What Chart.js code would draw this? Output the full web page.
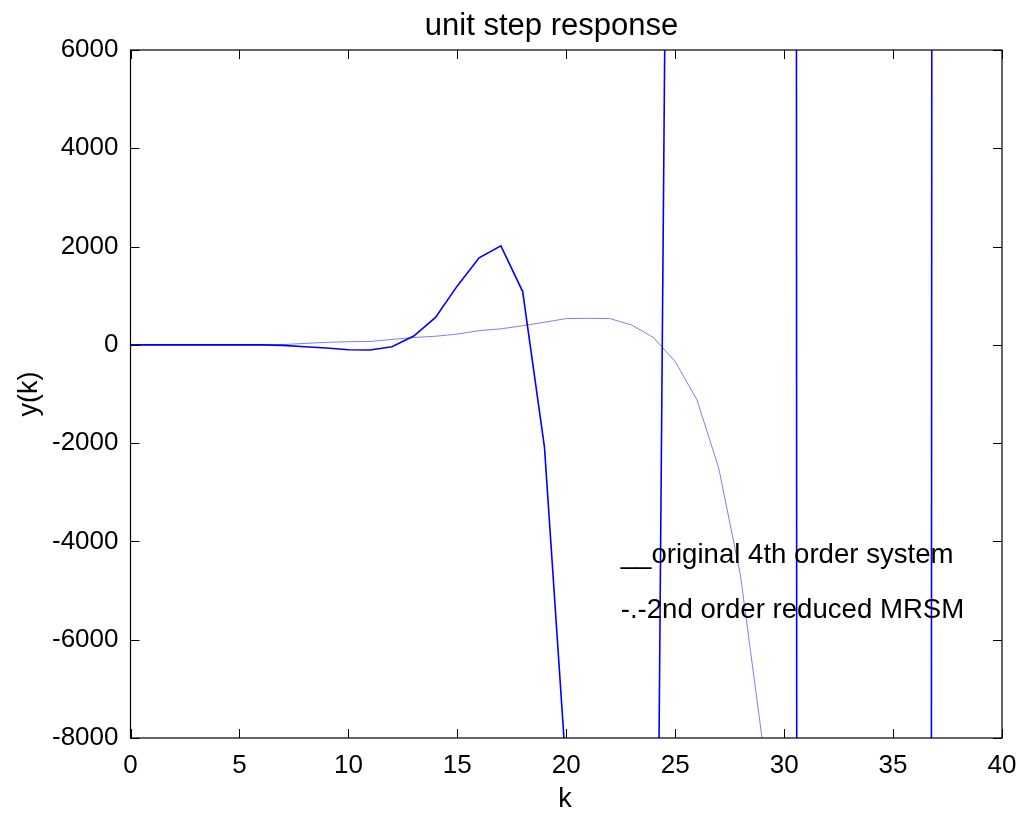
<!DOCTYPE html>
<html>
<head>
<meta charset="utf-8">
<title>unit step response</title>
<script src="https://cdn.jsdelivr.net/npm/chart.js@4/dist/chart.umd.min.js"></script>
<style>
  html, body { margin: 0; padding: 0; background: #fff; }
  canvas { display: block; }
</style>
</head>
<body>
<canvas id="chart" width="1022" height="814"></canvas>
<script>
// ── Data ───────────────────────────────────────────────────
// values beyond the axes are rough guesses, kept small enough that
// Chart.js doesn't clamp the pixel coordinates (int16 range)
const kOriginal = [0, 1, 2, 3, 4, 5, 6, 7, 8, 9, 10, 11, 12, 13, 14, 15, 16, 17, 18, 19, 20,
  21, 22, 23, 24, 25, 26, 27, 28, 29, 30, 31, 32, 33, 34, 35, 36, 37, 38, 39, 40]
const yOriginal = [0, 0, 0, 0, 0, 0, 0, -10, -40, -65, -100, -105, -40, 180, 560, 1200, 1770, 2015, 1085, -2080, -8700,
  -12000, -15000, -19000, -22000, 32000, 70000, 150000, 280000, 450000, 600000,
  -450000, -550000, -600000, -610000, -615000, -616000, 184000, 400000, 550000, 620000]

const kReduced = [0, 1, 2, 3, 4, 5, 6, 7, 8, 9, 10, 11, 12, 13, 14, 15, 16, 17, 18, 19, 20,
  21, 22, 23, 24, 25, 26, 27, 28, 29, 30]
const yReduced = [0, 0, 0, 0, 0, 0, 0, 5, 30, 50, 65, 70, 110, 150, 175, 220, 290, 325, 390, 460, 535,
  540, 535, 405, 150, -340, -1120, -2510, -4700, -8050, -13000]

const xTicks = [0, 5, 10, 15, 20, 25, 30, 35, 40]
const yTicks = [-8000, -6000, -4000, -2000, 0, 2000, 4000, 6000]

const titleText = 'unit step response'
const xLabel = 'k'
const yLabel = 'y(k)'
const noteTexts = ['__original 4th order system', '-.-2nd order reduced MRSM']
const noteX = [22.5, 22.5]
const noteY = [-4280, -5400]

const FONT = '"Liberation Sans", Arial, Helvetica, sans-serif'
const toPoints = (xs, ys) => xs.map((x, i) => ({ x, y: ys[i] }))

// ── Box, inward ticks and free text (MATLAB look) ──────────
const matlabFrame = {
  id: 'matlabFrame',
  afterDraw(chart) {
    const { ctx, chartArea: a, scales: { x, y } } = chart
    const tl = 9
    ctx.save()
    ctx.strokeStyle = '#000'
    ctx.lineWidth = 1.2
    ctx.strokeRect(a.left, a.top, a.right - a.left, a.bottom - a.top)
    ctx.beginPath()
    xTicks.forEach((v) => {
      const px = Math.round(x.getPixelForValue(v)) + 0.5
      ctx.moveTo(px, a.bottom); ctx.lineTo(px, a.bottom - tl)
      ctx.moveTo(px, a.top); ctx.lineTo(px, a.top + tl)
    })
    yTicks.forEach((v) => {
      const py = Math.round(y.getPixelForValue(v)) + 0.5
      ctx.moveTo(a.left, py); ctx.lineTo(a.left + tl, py)
      ctx.moveTo(a.right, py); ctx.lineTo(a.right - tl, py)
    })
    ctx.lineWidth = 1
    ctx.stroke()

    ctx.fillStyle = '#000'
    ctx.textBaseline = 'middle'
    ctx.textAlign = 'center'
    ctx.font = `31px ${FONT}`
    ctx.fillText(titleText, 551.5, 26)
    ctx.font = `27px ${FONT}`
    ctx.fillText(xLabel, 565, 800)
    ctx.save()
    ctx.translate(30, (a.top + a.bottom) / 2)
    ctx.rotate(-Math.PI / 2)
    ctx.fillText(yLabel, 0, 0)
    ctx.restore()

    ctx.font = `27.6px ${FONT}`
    ctx.textAlign = 'left'
    noteTexts.forEach((t, i) => {
      ctx.fillText(t, x.getPixelForValue(noteX[i]), y.getPixelForValue(noteY[i]))
    })
    ctx.restore()
  },
}

new Chart(document.getElementById('chart'), {
  type: 'line',
  data: {
    datasets: [
      {
        label: 'original 4th order system',
        data: toPoints(kOriginal, yOriginal),
        borderColor: '#0000ff',
        borderWidth: 1.6,
        pointRadius: 0,
        tension: 0,
        fill: false,
      },
      {
        label: '2nd order reduced MRSM',
        data: toPoints(kReduced, yReduced),
        borderColor: 'rgba(40, 40, 255, 0.6)',
        borderWidth: 1,
        pointRadius: 0,
        tension: 0,
        fill: false,
      },
    ],
  },
  options: {
    responsive: false,
    animation: false,
    layout: { padding: { top: 50, right: 20, left: 0, bottom: 0 } },
    plugins: {
      legend: { display: false },
      tooltip: { enabled: false },
      title: { display: false },
    },
    scales: {
      x: {
        type: 'linear',
        min: 0,
        max: 40,
        afterFit: (s) => { s.height = 76; s.paddingLeft = 0; s.paddingRight = 0 },
        afterBuildTicks: (s) => { s.ticks = xTicks.map((v) => ({ value: v })) },
        grid: { display: false, drawTicks: false },
        border: { display: false },
        ticks: { color: '#000', font: { family: FONT, size: 26 }, padding: 12, maxRotation: 0, callback: (v) => String(v) },
      },
      y: {
        type: 'linear',
        min: -8000,
        max: 6000,
        afterFit: (s) => { s.width = 130.5; s.paddingTop = 0; s.paddingBottom = 0 },
        afterBuildTicks: (s) => { s.ticks = yTicks.map((v) => ({ value: v })) },
        grid: { display: false, drawTicks: false },
        border: { display: false },
        ticks: { color: '#000', font: { family: FONT, size: 26 }, padding: 12, callback: (v) => String(v) },
      },
    },
  },
  plugins: [matlabFrame],
})
</script>
</body>
</html>
